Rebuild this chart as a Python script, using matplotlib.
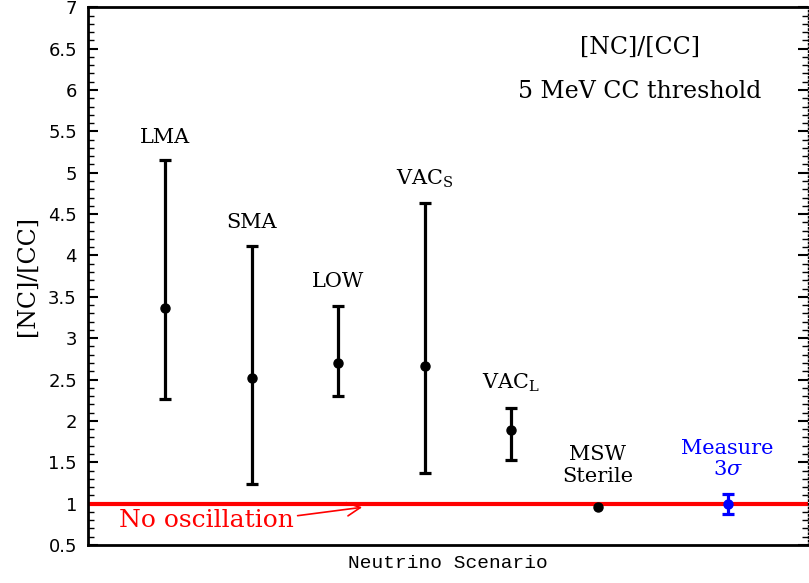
import matplotlib
matplotlib.use("Agg")
import matplotlib.pyplot as plt
from matplotlib.ticker import MultipleLocator

plt.rcParams["mathtext.fontset"] = "dejavuserif"

scenarios = ["LMA", "SMA", "LOW", "VAC$_{\\mathrm{S}}$", "VAC$_{\\mathrm{L}}$"]
xpos = [1, 2, 3, 4, 5]
centers = [3.37, 2.52, 2.70, 2.66, 1.89]
upper = [5.15, 4.11, 3.39, 4.63, 2.15]
lower = [2.27, 1.24, 2.30, 1.37, 1.53]
label_y = [5.43, 4.40, 3.68, 4.93, 2.46]

sterile_x = 6
sterile_val = 0.96
measure_x = 7.5
measure_val = 1.0
measure_err = 0.12
no_osc = 1.0

fig = plt.figure(figsize=(8.09, 5.83), dpi=100)
ax = fig.add_axes([0.1088, 0.0652, 0.8900, 0.9223])

serif = ["DejaVu Serif"]

yerr = [[c - l for c, l in zip(centers, lower)], [u - c for u, c in zip(upper, centers)]]
ax.errorbar(xpos, centers, yerr=yerr, fmt="o", color="black", ms=6.5,
            elinewidth=2.3, capsize=4, capthick=2.3, zorder=3)
for x, ly, name in zip(xpos, label_y, scenarios):
    ax.text(x, ly, name, ha="center", va="center", fontsize=15, family=serif)

ax.plot([sterile_x], [sterile_val], "o", color="black", ms=6.5, zorder=3)
ax.text(sterile_x, 1.46, "MSW\nSterile", ha="center", va="center", fontsize=15,
        family=serif, linespacing=1.2)

ax.axhline(no_osc, color="red", lw=3, zorder=2)
ax.errorbar([measure_x], [measure_val], yerr=[measure_err], fmt="o", color="blue",
            ms=6.5, elinewidth=2.3, capsize=4, capthick=2.3, zorder=4)
ax.text(measure_x, 1.54, "Measure\n3$\\sigma$", ha="center", va="center", fontsize=15,
        color="blue", family=serif, linespacing=1.15)

ax.annotate("", xy=(3.31, 0.96), xytext=(2.50, 0.85),
            arrowprops=dict(arrowstyle="->", color="red", lw=1.2,
                            mutation_scale=24))
ax.text(0.47, 0.80, "No oscillation", color="red", fontsize=18, family=serif,
        ha="left", va="center")

ax.text(6.49, 6.51, "[NC]/[CC]", ha="center", va="center", fontsize=17, family=serif)
ax.text(6.48, 5.98, "5 MeV CC threshold", ha="center", va="center", fontsize=17,
        family=serif)

ax.set_xlim(0.11, 8.43)
ax.set_ylim(0.5, 7)
ax.set_yticks([0.5, 1, 1.5, 2, 2.5, 3, 3.5, 4, 4.5, 5, 5.5, 6, 6.5, 7])
ax.set_yticklabels(["0.5", "1", "1.5", "2", "2.5", "3", "3.5", "4", "4.5", "5",
                    "5.5", "6", "6.5", "7"])
ax.yaxis.set_minor_locator(MultipleLocator(0.1))
ax.tick_params(axis="y", which="major", direction="in", length=7, width=1.5,
               labelsize=13, right=True, pad=8)
ax.tick_params(axis="y", which="minor", direction="in", length=4, width=1.0, right=True)
ax.tick_params(axis="x", which="both", bottom=False, labelbottom=False)
for s in ["left", "top", "bottom"]:
    ax.spines[s].set_linewidth(2)
ax.spines["right"].set_linestyle(":")
ax.spines["right"].set_linewidth(1)

ax.set_ylabel("[NC]/[CC]", fontsize=17, family=serif, labelpad=7)
ax.set_xlabel("Neutrino Scenario", fontsize=14, family=["Liberation Mono"], labelpad=7)

fig.savefig("out.png", dpi=100)
